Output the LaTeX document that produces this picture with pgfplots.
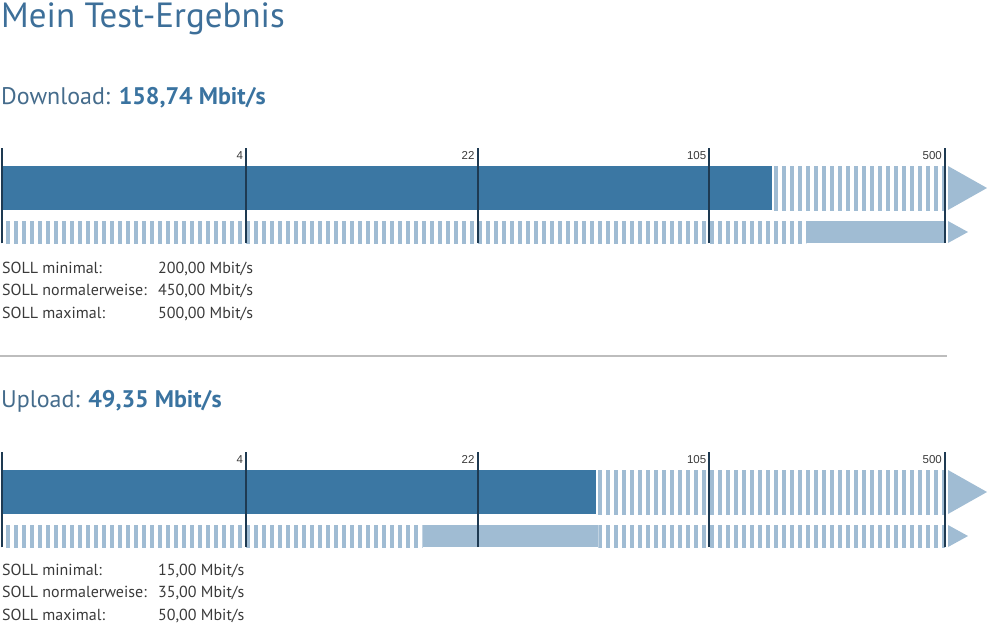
\documentclass[border=0pt]{standalone}
\usepackage{pgfplots}
\pgfplotsset{compat=1.18}
\usepackage{fontspec}
\setmainfont{PT Sans}
\newfontfamily\tickfont{Liberation Sans}
\usetikzlibrary{patterns.meta}

\definecolor{darkbar}{HTML}{3B77A3}
\definecolor{lightbar}{HTML}{A0BCD3}
\definecolor{tickline}{HTML}{1E3A52}
\definecolor{titleblue}{HTML}{3D6F99}
\definecolor{labelblue}{HTML}{456C8C}
\definecolor{numblue}{HTML}{3A73A0}
\definecolor{sollgray}{HTML}{3A3A3A}
\definecolor{sepgray}{HTML}{BDBDBD}

% one speed scale: 0 .. 500 Mbit/s, drawn as log10(1+x)
\pgfplotsset{speedbar/.style={
    width=943pt, height=95pt, scale only axis,
    anchor=south west,
    xmin=0, xmax=500, ymin=0, ymax=95,
    x coord trafo/.code={\pgfmathparse{ln(##1+1)}},
    x coord inv trafo/.code={\pgfmathparse{exp(##1)-1}},
    xtick={0,4,22,105,500}, xticklabels={,4,22,105,500},
    ytick=\empty,
    axis line style={draw=none},
    major tick length=0pt,
    xmajorgrids,
    major grid style={draw=tickline, line width=2pt},
    xticklabel pos=upper,
    xticklabel style={anchor=north east, inner sep=0pt, xshift=-3pt, yshift=-3.5pt,
        font=\tickfont\fontsize{11.5}{12}\selectfont, text=sollgray},
    axis on top, clip=false,
}}
\tikzset{stripes/.style={draw=none,
    pattern={Lines[angle=90,distance=8pt,line width=4.5pt]}, pattern color=lightbar}}

\begin{document}
\begin{tikzpicture}
\path[use as bounding box] (0,0) rectangle (999pt,-633pt);

\node[anchor=base west, inner sep=0, text=titleblue, font=\fontsize{35}{40}\selectfont]
  at (1pt,-27pt) {Mein Test-Ergebnis};

% ---------- Download
\node[anchor=base west, inner sep=0, text=labelblue, font=\fontsize{24}{28}\selectfont]
  at (1pt,-104pt) {Download: \textcolor{numblue}{\bfseries 158,74 Mbit/s}};

\begin{axis}[speedbar, at={(2pt,-243pt)}]
\addplot[stripes] coordinates {(158.74,33)(500,33)(500,77)(158.74,77)} -- cycle;
\addplot[draw=none, fill=darkbar] coordinates {(0,33)(158.74,33)(158.74,77)(0,77)} -- cycle;
\addplot[stripes] coordinates {(0,0)(200,0)(200,22)(0,22)} -- cycle;
\addplot[draw=none, fill=lightbar] coordinates {(200,0)(500,0)(500,22)(200,22)} -- cycle;
\fill[lightbar] ([xshift=3pt]axis cs:500,33) -- ([xshift=3pt]axis cs:500,77) -- ([xshift=42pt]axis cs:500,55) -- cycle;
\fill[lightbar] ([xshift=3pt]axis cs:500,0) -- ([xshift=3pt]axis cs:500,22) -- ([xshift=23pt]axis cs:500,11) -- cycle;
\end{axis}

\begin{scope}[every node/.style={anchor=base west, inner sep=0, text=sollgray, font=\fontsize{16}{18}\selectfont}]
\node at (2pt,-273pt) {SOLL minimal:};
\node at (2pt,-295.5pt) {SOLL normalerweise:};
\node at (2pt,-318pt) {SOLL maximal:};
\node at (158pt,-273pt) {200,00 Mbit/s};
\node at (158pt,-295.5pt) {450,00 Mbit/s};
\node at (158pt,-318pt) {500,00 Mbit/s};
\end{scope}

\draw[sepgray, line width=1.5pt] (0,-356pt) -- (947pt,-356pt);

% ---------- Upload
\node[anchor=base west, inner sep=0, text=labelblue, font=\fontsize{24}{28}\selectfont]
  at (1pt,-407pt) {Upload: \textcolor{numblue}{\bfseries 49,35 Mbit/s}};

\begin{axis}[speedbar, at={(2pt,-547pt)}]
\addplot[stripes] coordinates {(49.35,33)(500,33)(500,77)(49.35,77)} -- cycle;
\addplot[draw=none, fill=darkbar] coordinates {(0,33)(49.35,33)(49.35,77)(0,77)} -- cycle;
\addplot[stripes] coordinates {(0,0)(15,0)(15,22)(0,22)} -- cycle;
\addplot[draw=none, fill=lightbar] coordinates {(15,0)(50,0)(50,22)(15,22)} -- cycle;
\addplot[stripes] coordinates {(50,0)(500,0)(500,22)(50,22)} -- cycle;
\fill[lightbar] ([xshift=3pt]axis cs:500,33) -- ([xshift=3pt]axis cs:500,77) -- ([xshift=42pt]axis cs:500,55) -- cycle;
\fill[lightbar] ([xshift=3pt]axis cs:500,0) -- ([xshift=3pt]axis cs:500,22) -- ([xshift=23pt]axis cs:500,11) -- cycle;
\end{axis}

\begin{scope}[every node/.style={anchor=base west, inner sep=0, text=sollgray, font=\fontsize{16}{18}\selectfont}]
\node at (2pt,-575pt) {SOLL minimal:};
\node at (2pt,-597.5pt) {SOLL normalerweise:};
\node at (2pt,-620pt) {SOLL maximal:};
\node at (158pt,-575pt) {15,00 Mbit/s};
\node at (158pt,-597.5pt) {35,00 Mbit/s};
\node at (158pt,-620pt) {50,00 Mbit/s};
\end{scope}
\end{tikzpicture}
\end{document}
